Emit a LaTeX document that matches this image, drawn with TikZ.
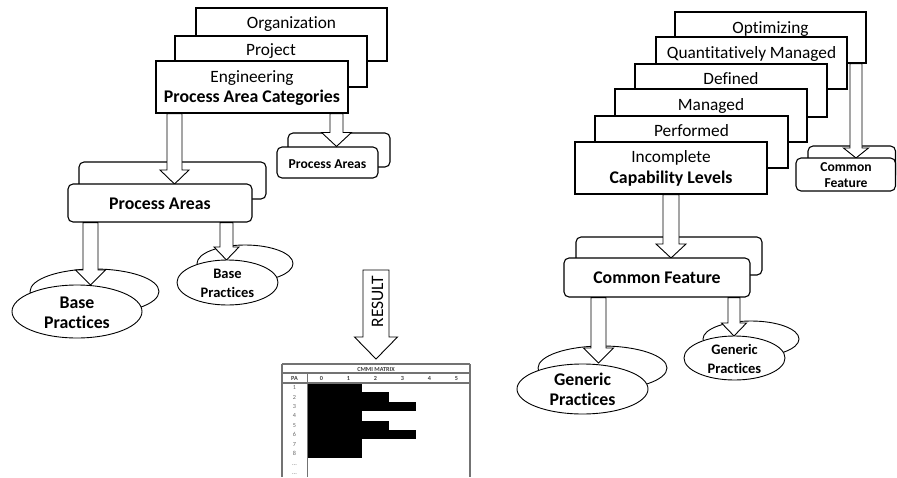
\documentclass[tikz,border=0pt]{standalone}
\usepackage{fontspec}
\setmainfont{Carlito}[Ligatures=NoCommon]
\usetikzlibrary{shapes.geometric,calc}
\newcommand\fbig{\fontsize{17.3}{20}\selectfont}
\newcommand\fbold{\fontsize{17.8}{20}\selectfont\bfseries}
\newcommand\fmid{\fontsize{14.5}{17}\selectfont}
\newcommand\fsml{\fontsize{13.6}{16}\selectfont}
\newcommand\ftiny{\fontsize{6.2}{7}\selectfont}
% style, name, x1, y1, x2, y2
\newcommand\mkbox[6]{\node[#1, minimum width={#5-#3}, minimum height={#6-#4}] (#2) at ({(#3+#5)/2},{(#4+#6)/2}) {};}
% name, cx, cy, w, h
\newcommand\mkell[5]{\node[ellbox, minimum width=#4, minimum height=#5] (#1) at (#2,#3) {};}
% x centre, from, to, head length, shaft half, head half
\newcommand\barrow[6]{\draw[blockarrow] let \p1=(#2), \p2=(#3) in
  ({#1pt-#5pt},\y1) -- ({#1pt-#5pt},\y2+#4pt) -- ({#1pt-#6pt},\y2+#4pt) -- (#1pt,\y2)
  -- ({#1pt+#6pt},\y2+#4pt) -- ({#1pt+#5pt},\y2+#4pt) -- ({#1pt+#5pt},\y1) -- cycle;}
\begin{document}
\begin{tikzpicture}[x=1pt,y=-1pt,
  lvlbox/.style={draw, fill=white, line width=1.1pt, inner sep=0pt, rectangle},
  rndbox/.style={draw, fill=white, line width=1.1pt, inner sep=0pt, rectangle, rounded corners=5pt},
  ellbox/.style={draw, fill=white, line width=0.9pt, inner sep=0pt, ellipse},
  blockarrow/.style={draw, fill=white, line width=0.9pt, line join=miter},
  lab/.style={inner sep=0pt, anchor=base},
  grid/.style={draw=black!55, line width=1.1pt},
  mtx/.style={inner sep=0pt, font=\ftiny, text=black!60}]
\useasboundingbox (0,0) rectangle (897,477);

% ---------------- left group: process area categories
\mkbox{lvlbox}{org}{196}{8}{387}{61}
\mkbox{lvlbox}{proj}{175}{36}{367}{87}
\mkbox{lvlbox}{eng}{156}{61}{348}{113}
\node[lab, font=\fbig] (torg) at (291.5,28.5) {Organization};
\node[lab, font=\fbig] (tproj) at (271,55) {Project};
\node[lab, font=\fbig] (teng) at (252,82.5) {Engineering};
\node[lab, font=\fbold] (tpac) at (252,102) {Process Area Categories};

% small process areas
\mkbox{rndbox}{spaback}{288}{133}{390}{167}
\mkbox{rndbox}{spa}{277}{147}{378}{178}
\barrow{336.5}{eng.south}{spa.north}{14}{6.5}{15}
\node[lab, font=\fsml\bfseries] (tspa) at (327.5,168) {Process Areas};

% big process areas
\mkbox{rndbox}{paback}{79}{162}{266}{199}
\coordinate (patop) at (174.5,184);
\barrow{174.5}{eng.south}{patop}{14}{7.5}{14.5}
\mkbox{rndbox}{pa}{68}{184}{252}{222}
\node[lab, font=\fbold] (tpa) at (160,209.5) {Process Areas};

% base practices
\mkell{bpbigback}{94.5}{291.5}{129}{45}
\mkell{bpsmlback}{245}{263.5}{96}{37}
\coordinate (bpbtop) at (90.5,285);
\coordinate (bpstop) at (226.5,260);
\barrow{90.5}{pa.south}{bpbtop}{15}{7.5}{15}
\barrow{226.5}{pa.south}{bpstop}{13}{6.5}{12.5}
\mkell{bpbig}{77}{311.5}{130}{53}
\mkell{bpsml}{227.5}{282.5}{101}{45}
\node[lab, font=\fbold] (tbp1) at (77,308) {Base};
\node[lab, font=\fbold] (tbp2) at (77,328.5) {Practices};
\node[lab, font=\fmid\bfseries] (tbs1) at (227.5,278.5) {Base};
\node[lab, font=\fmid\bfseries] (tbs2) at (227.5,297) {Practices};

% ---------------- result arrow and matrix
\coordinate (rtop) at (376,270);
\coordinate (rtip) at (376,359);
\barrow{376}{rtop}{rtip}{22}{13}{21.5}
\node[inner sep=0pt, rotate=90, font=\fontsize{17.5}{20}\selectfont] (tres) at (377.5,301.5) {RESULT};

\coordinate (mtl) at (282,364);
\coordinate (mtr) at (470,364);
% black bars
\foreach \r/\e in {1/362,2/389,3/416,4/362,5/389,6/416,7/362,8/362}{
  \fill[black] (308,{383+9.4*(\r-1)}) rectangle (\e,{383+9.4*\r});
}
\draw[grid] (mtl) -- (mtr);
\draw[grid] (282,373) -- (470,373);
\draw[grid] (282,383) -- (470,383);
\draw[grid] (mtl) -- (282,477);
\draw[grid] (mtr) -- (470,477);
\draw[grid] (307.5,373) -- (307.5,477);
\node[mtx, font=\ftiny\bfseries, text=black!75] (mtitle) at (376,369) {CMMI MATRIX};
\node[mtx, font=\ftiny\bfseries, text=black!75] (mpa) at (294.5,378.5) {PA};
\foreach \c in {0,...,5}{
  \node[mtx, font=\ftiny\bfseries, text=black!75] (mc\c) at ({321.5+27*\c},378.5) {\c};
}
\foreach \r in {1,...,8}{
  \node[mtx] (mr\r) at (294.5,{383+9.4*(\r-0.5)}) {\r};
}
\node[mtx] (mr9) at (294.5,465) {...};
\node[mtx] (mr10) at (294.5,474) {...};

% ---------------- right group: capability levels
\mkbox{lvlbox}{opt}{675}{12}{866}{63}
\mkbox{lvlbox}{qm}{656}{37}{847}{89}
\mkbox{lvlbox}{def}{635}{64}{827}{117}
\mkbox{lvlbox}{man}{615}{89}{807}{142}
\mkbox{lvlbox}{perf}{595}{116}{788}{168}
\mkbox{lvlbox}{inc}{575}{142}{767}{194}
\node[lab, font=\fbig] (topt) at (770.5,33.5) {Optimizing};
\node[lab, font=\fbig] (tqm) at (751.5,58.5) {Quantitatively Managed};
\node[lab, font=\fbig] (tdef) at (731,84.5) {Defined};
\node[lab, font=\fbig] (tman) at (711,110) {Managed};
\node[lab, font=\fbig] (tperf) at (691.5,136) {Performed};
\node[lab, font=\fbig] (tinc) at (671,162.5) {Incomplete};
\node[lab, font=\fbold] (tcl) at (671,183.5) {Capability Levels};

% small common feature
\mkbox{rndbox}{scfback}{808}{146}{895.5}{180}
\coordinate (scftop) at (856,158);
\barrow{856}{opt.south}{scftop}{10}{6}{12.5}
\mkbox{rndbox}{scf}{796}{158}{895.5}{191}
\node[lab, font=\fsml\bfseries] (tscf1) at (846,171.5) {Common};
\node[lab, font=\fsml\bfseries] (tscf2) at (846,187) {Feature};

% big common feature
\mkbox{rndbox}{cfback}{576}{237}{762}{275}
\coordinate (cftop) at (671,258);
\barrow{671}{inc.south}{cftop}{14}{8}{15}
\mkbox{rndbox}{cf}{564}{258}{750}{297}
\node[lab, font=\fbold] (tcf) at (657,283.5) {Common Feature};

% generic practices
\mkell{gpbigback}{602.5}{368}{129}{44}
\mkell{gpsmlback}{751}{339}{96}{36}
\coordinate (gpbtop) at (598.5,363);
\coordinate (gpstop) at (734,336);
\barrow{598.5}{cf.south}{gpbtop}{15}{7.5}{15}
\barrow{734}{cf.south}{gpstop}{13}{6}{12.5}
\mkell{gpbig}{582.5}{389}{131}{50}
\mkell{gpsml}{734.5}{358}{101}{44}
\node[lab, font=\fbold] (tgp1) at (582.5,385) {Generic};
\node[lab, font=\fbold] (tgp2) at (582.5,405.5) {Practices};
\node[lab, font=\fmid\bfseries] (tgs1) at (734.5,354) {Generic};
\node[lab, font=\fmid\bfseries] (tgs2) at (734.5,373) {Practices};
\end{tikzpicture}
\end{document}
